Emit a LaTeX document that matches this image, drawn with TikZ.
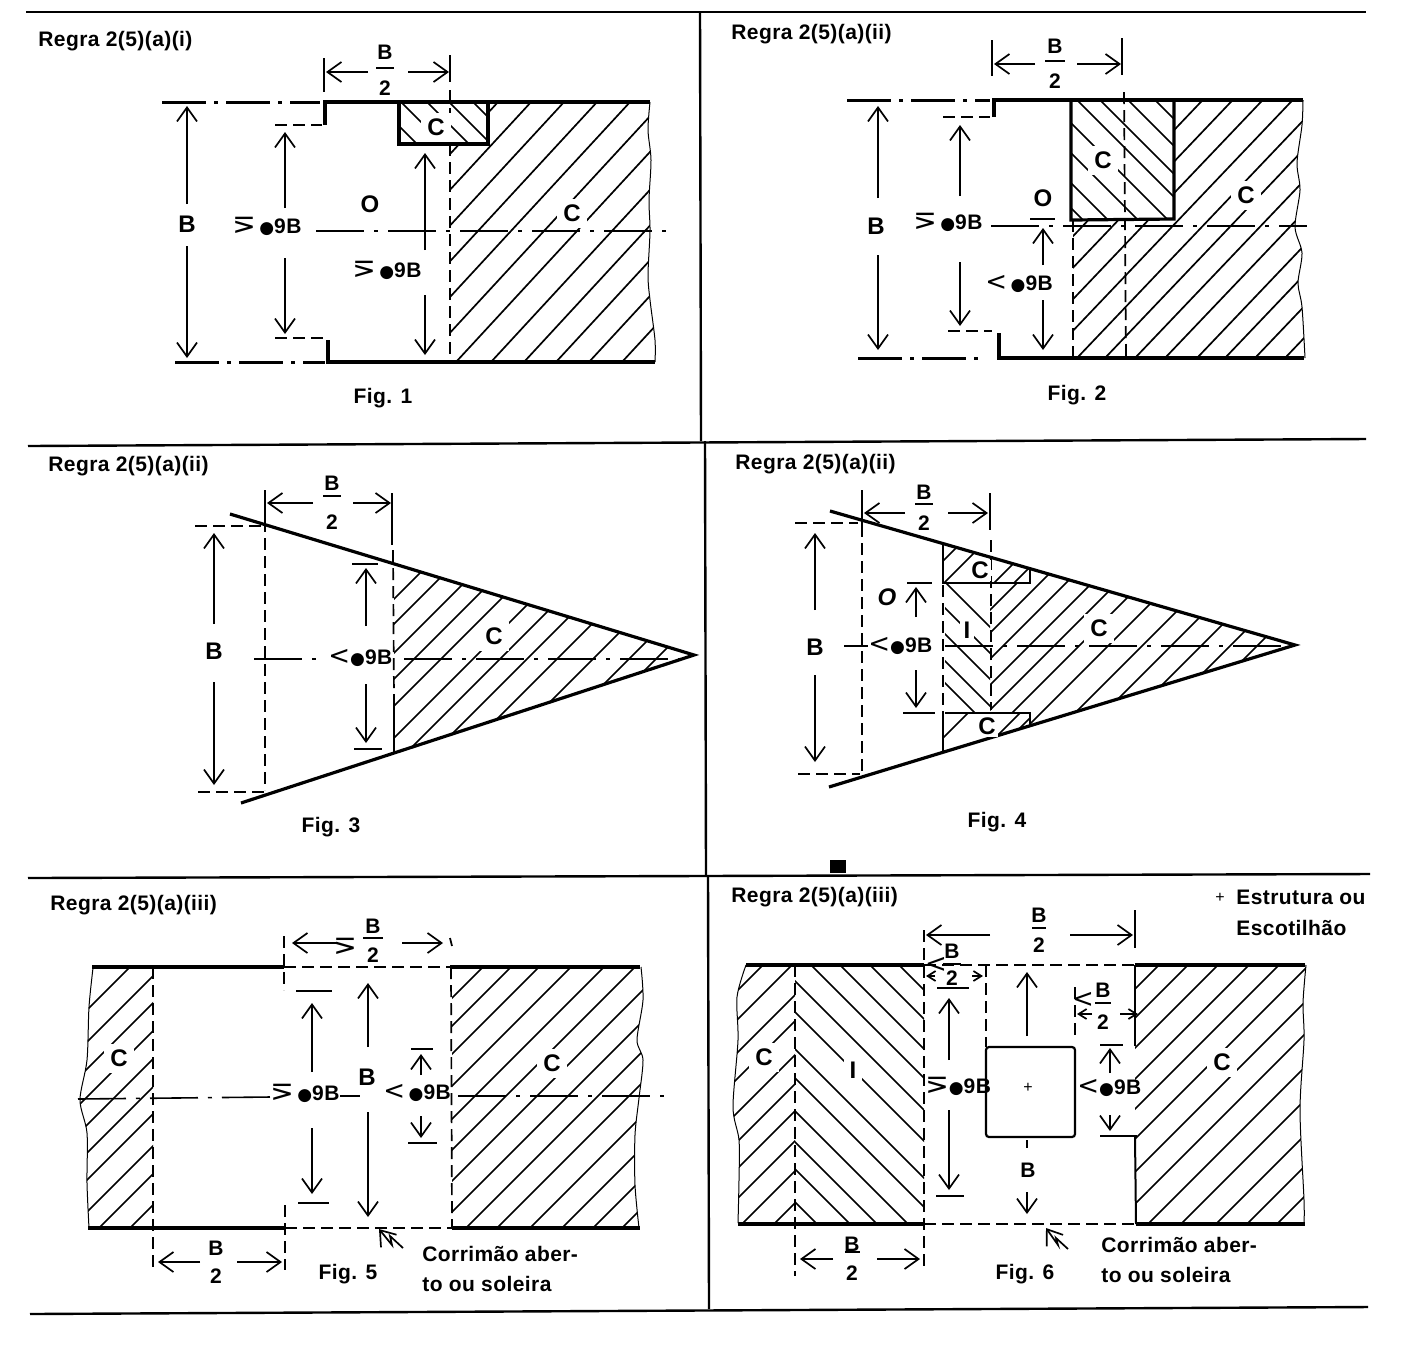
\documentclass[tikz,border=0pt]{standalone}
\usepackage{fontspec}
\setmainfont[LetterSpace=2]{Liberation Sans}
\newfontfamily\djf{DejaVu Sans}
\usetikzlibrary{arrows.meta}
\newcommand\gebar{{\djf\mdseries\fontsize{14}{14}\selectfont ⋝}}
\newcommand\ltm{{\djf\mdseries\fontsize{13}{13}\selectfont <}}
\newcommand\bdot{{\djf\mdseries\fontsize{8.5}{9}\selectfont ●}}
\newcommand\hatchU[4]{\begin{scope}\clip #1;\foreach \hv in {#4}{\draw[hatchl] ({\hv+2000/#2},{#3-2000}) -- ({\hv-2000/#2},{#3+2000});}\end{scope}}
\newcommand\hatchD[2]{\begin{scope}\clip #1;\foreach \hv in {#2}{\draw[hatchl] ({\hv},0) -- ({\hv+1500},1500);}\end{scope}}
% fraction: name, x, y of numerator, y of denominator, rule y, half rule width
\newcommand\frc[6]{\node[txt] (#1n) at (#2,#3) {B};\node[txt] (#1d) at (#2,#4) {2};\draw[dim] ({#2-#6},#5) -- ({#2+#6},#5);}
\tikzset{
  txt/.style={inner sep=0pt,font=\fontsize{10.5}{12}\selectfont\bfseries},
  big/.style={inner sep=3pt,fill=white,font=\fontsize{12}{13}\selectfont\bfseries},
  bar/.style={line width=1.6pt},
  thickdd/.style={line width=1.5pt,dash pattern=on 22pt off 4pt on 2pt off 4pt},
  dim/.style={line width=0.85pt,>={Straight Barb[length=7pt,width=10pt]}},
  dsh/.style={line width=0.85pt,dash pattern=on 6pt off 3pt},
  center/.style={line width=0.8pt,dash pattern=on 24pt off 5pt on 2pt off 5pt},
  hatchl/.style={line width=0.85pt},
  wavy/.style={line width=0.5pt},
  frameline/.style={line width=1.2pt}
}
\begin{document}
\begin{tikzpicture}[x=0.5pt,y=-0.5pt]
\useasboundingbox (0,0) rectangle (1418,1346);
% frame
\draw[frameline] (26,12) -- (1366,12);
\draw[frameline] (28,446) -- (1366,439);
\draw[frameline] (28,878) -- (1370,874);
\draw[frameline] (30,1314) -- (1368,1307);
\draw[frameline] (700,12) -- (701,441);
\draw[frameline] (705,441) -- (706,875);
\draw[frameline] (708,875) -- (709,1309);
\fill (830,860) rectangle (846,873);

% ---------- FIG 1
\node[txt,anchor=west] (r1) at (38,41) {Regra 2(5)(a)(i)};
\hatchU{(450,144) -- (488,144) -- (488,102) -- plot[smooth] coordinates {(650,102) (648,130) (651,160) (649,200) (650,231) (648,275) (650,300) (655,340) (655,362)} -- (450,362) -- cycle}{1.083}{362}{225,258,291,324,357,390,423,456,491,524,556,589,622}
\hatchD{(399,102) rectangle (488,144)}{273,299,325,347,371}
\draw[wavy] plot[smooth] coordinates {(650,102) (648,130) (651,160) (649,200) (650,231) (648,275) (650,300) (655,340) (655,362)};
\draw[bar] (399,102) -- (399,144) -- (488,144) -- (488,102);
\draw[thickdd] (162,102) -- (320,102);
\draw[bar] (325,125) -- (325,102) -- (650,102);
\draw[dsh] (275,125) -- (322,125);
\draw[thickdd] (175,362) -- (325,362);
\draw[bar] (328,340) -- (328,362) -- (655,362);
\draw[dsh] (275,338) -- (325,338);
\draw[dim] (324,58) -- (324,92);
\draw[dim] (450,55) -- (450,82);
\draw[dsh] (450,90) -- (450,362);
\draw[dim,->] (368,72) -- (326,72);
\draw[dim,->] (408,72) -- (449,72);
\frc{f1}{385}{52}{88}{68}{9}
\draw[dim,->] (187,204) -- (187,106);
\draw[dim,->] (187,246) -- (187,358);
\draw[dim,->] (285,208) -- (285,132);
\draw[dim,->] (285,258) -- (285,334);
\draw[dim,->] (425,250) -- (425,153);
\draw[dim,->] (425,295) -- (425,355);
\draw[center] (316,231) -- (667,231);
\node[big] (b1) at (187,224) {B};
\node[txt,anchor=west] (m1a) at (232,226) {\gebar\,\bdot 9B};
\node[txt,anchor=west] (m1b) at (352,270) {\gebar\,\bdot 9B};
\node[big] (o1) at (370,204) {O};
\node[big] (c1a) at (436,127) {C};
\node[big] (c1b) at (572,213) {C};
\node[txt] (fig1) at (383,398) {Fig. 1};

% ---------- FIG 2
\node[txt,anchor=west] (r2) at (731,34) {Regra 2(5)(a)(ii)};
\hatchU{(1174,100) -- plot[smooth] coordinates {(1303,100) (1302,125) (1297,163) (1300,190) (1295,227) (1302,253) (1298,283) (1302,307) (1305,358)} -- (1073,358) -- (1073,220) -- (1174,220) -- cycle}{1.05}{358}{897,927,957,987,1017,1047,1077,1105,1135,1165,1197,1225,1255,1285}
\hatchD{(1071,100) rectangle (1174,219)}{863,888,918,948,977,1000,1028,1055}
\draw[wavy] plot[smooth] coordinates {(1303,100) (1302,125) (1297,163) (1300,190) (1295,227) (1302,253) (1298,283) (1302,307) (1305,358)};
\draw[thickdd] (847,100) -- (990,100);
\draw[bar] (994,117) -- (994,100) -- (1303,100);
\draw[dsh] (943,117) -- (990,117);
\draw[thickdd] (858,358) -- (985,358);
\draw[bar] (999,333) -- (999,358) -- (1304,358);
\draw[dsh] (948,331) -- (992,331);
\draw[bar] (1071,100) -- (1071,220) -- (1174,219) -- (1174,100);
\draw[dsh] (1073,220) -- (1073,358);
\draw[dsh] (1124,92) -- (1126,358);
\draw[dim] (992,40) -- (992,76);
\draw[dim] (1122,38) -- (1122,75);
\draw[dim,->] (1035,64) -- (994,64);
\draw[dim,->] (1077,64) -- (1121,64);
\frc{f2}{1055}{46}{81}{61}{10}
\draw[dim,->] (878,198) -- (878,106);
\draw[dim,->] (878,255) -- (878,350);
\draw[dim,->] (960,196) -- (960,125);
\draw[dim,->] (960,262) -- (960,326);
\draw[dim,->] (1043,265) -- (1043,228);
\draw[dim,->] (1043,300) -- (1043,350);
\draw[dim] (1030,219) -- (1055,219);
\draw[center] (991,226) -- (1307,226);
\node[big] (b2) at (876,226) {B};
\node[txt,anchor=west] (m2a) at (913,222) {\gebar\,\bdot 9B};
\node[txt,anchor=west] (m2b) at (985,284) {\ltm\,\bdot 9B};
\node[big,inner sep=1pt] (o2) at (1043,198) {O};
\node[big] (c2a) at (1103,160) {C};
\node[big] (c2b) at (1246,195) {C};
\node[txt] (fig2) at (1077,395) {Fig. 2};

% ---------- FIG 3
\node[txt,anchor=west] (r3) at (48,466) {Regra 2(5)(a)(ii)};
\hatchU{(394,563) -- (694,655) -- (394,752) -- cycle}{1}{0}{993,1018,1047,1073,1100,1132,1159,1186,1216,1252,1288,1315}
\draw[bar] (230,514) -- (694,655) -- (241,803);
\draw[dim] (265,490) -- (265,520);
\draw[dsh] (265,520) -- (265,790);
\draw[dim] (392,493) -- (392,545);
\draw[dsh] (393,550) -- (394,700);
\draw[bar,line width=1pt] (394,700) -- (394,752);
\draw[dim,->] (313,503) -- (267,503);
\draw[dim,->] (353,503) -- (391,503);
\frc{f3}{332}{483}{522}{496}{9}
\draw[dsh] (195,526) -- (262,526);
\draw[dsh] (198,792) -- (265,792);
\draw[dim,->] (214,624) -- (214,533);
\draw[dim,->] (214,682) -- (214,785);
\draw[dim] (352,564) -- (378,564);
\draw[dim] (354,749) -- (382,749);
\draw[dim,->] (366,626) -- (366,568);
\draw[dim,->] (366,684) -- (366,743);
\draw[center] (254,659) -- (325,659);
\draw[center] (404,659) -- (690,659);
\node[big,fill=none,inner sep=0pt] (b3) at (214,651) {B};
\node[txt,anchor=west] (m3) at (328,658) {\ltm\bdot 9B};
\node[big] (c3) at (494,636) {C};
\node[txt] (fig3) at (331,827) {Fig. 3};

% ---------- FIG 4
\node[txt,anchor=west] (r4) at (735,464) {Regra 2(5)(a)(ii)};
\hatchU{(943,543) -- (1030,569) -- (1030,583) -- (943,583) -- cycle}{1}{0}{1504,1527,1577,1597}
\hatchU{(943,713) -- (1030,713) -- (1030,726) -- (943,752) -- cycle}{1}{0}{1681,1733,1748}
\hatchD{(945,584) rectangle (990,713)}{363,337,311,284,262}
\hatchU{(1030,569) -- (1295,645) -- (1030,726) -- (1030,713) -- (990,713) -- (990,584) -- (1030,584) -- cycle}{1}{0}{1600,1623,1649,1675,1700,1725,1754,1788,1817,1847,1876,1903}
\draw[bar] (830,511) -- (1295,645) -- (829,787);
\draw[dim] (862,490) -- (862,525);
\draw[dsh] (862,525) -- (862,775);
\draw[dim] (990,493) -- (990,530);
\draw[dsh] (991,540) -- (991,710);
\draw[dim,->] (905,513) -- (864,513);
\draw[dim,->] (948,513) -- (988,513);
\frc{f4}{924}{492}{523}{504}{9}
\draw[dsh] (795,523) -- (858,523);
\draw[dsh] (798,774) -- (860,774);
\draw[dim,->] (815,610) -- (815,533);
\draw[dim,->] (815,675) -- (815,762);
\draw[dim,->] (916,617) -- (916,587);
\draw[dim,->] (916,670) -- (916,708);
\draw[dim] (907,583) -- (932,583);
\draw[dim] (903,713) -- (935,713);
\draw[line width=1.2pt] (943,544) -- (943,583) -- (1030,583) -- (1030,570);
\draw[dsh] (943,585) -- (943,713);
\draw[line width=1.2pt] (943,713) -- (943,752);
\draw[dim,line width=1pt] (945,713) -- (1030,713) -- (1030,725);
\draw[dim] (844,646) -- (868,646);
\draw[center] (945,646) -- (1285,646);
\node[big,fill=none,inner sep=0pt] (b4) at (815,647) {B};
\node[txt,anchor=west] (m4) at (868,646) {\ltm\bdot 9B};
\node[big,fill=white,inner sep=1pt,font=\fontsize{12}{13}\selectfont\bfseries\itshape] (o4) at (887,597) {O};
\node[big,inner sep=1pt] (c4a) at (980,570) {C};
\node[big,inner sep=1pt] (c4b) at (987,726) {C};
\node[big,inner sep=2pt] (i4) at (967,630) {I};
\node[big] (c4c) at (1099,628) {C};
\node[txt] (fig4) at (997,822) {Fig. 4};

% ---------- FIG 5
\node[txt,anchor=west] (r5) at (50,905) {Regra 2(5)(a)(iii)};
\hatchU{(153,967) -- plot[smooth] coordinates {(93,968) (89,1007) (87,1060) (80,1100) (87,1133) (87,1183) (89,1228)} -- (153,1228) -- cycle}{1}{0}{1097,1129,1156,1184,1212,1240,1267,1299,1327,1358}
\hatchU{(452,967) -- plot[smooth] coordinates {(641,967) (643,1000) (637,1040) (643,1060) (639,1098) (635,1135) (635,1185) (639,1228)} -- (452,1228) -- cycle}{1}{0}{1450,1478,1506,1538,1571,1602,1633,1664,1694,1725,1758,1790,1821,1850}
\draw[wavy] plot[smooth] coordinates {(93,968) (89,1007) (87,1060) (80,1100) (87,1133) (87,1183) (89,1228)};
\draw[wavy] plot[smooth] coordinates {(641,967) (643,1000) (637,1040) (643,1060) (639,1098) (635,1135) (635,1185) (639,1228)};
\draw[bar] (92,967) -- (284,967);
\draw[bar] (450,967) -- (640,967);
\draw[bar] (88,1228) -- (285,1228);
\draw[bar] (452,1228) -- (640,1228);
\draw[dsh] (284,967) -- (450,967);
\draw[dsh] (285,1228) -- (452,1228);
\draw[dsh] (284,936) -- (284,990);
\draw[dsh] (285,1205) -- (285,1270);
\draw[dsh] (153,967) -- (153,1272);
\draw[dsh] (451,967) -- (452,1228);
\draw[dim] (450,938) -- (452,946);
\draw[dim,->] (338,943) -- (292,943);
\draw[dim,->] (402,943) -- (443,943);
\frc{f5}{373}{926}{955}{938}{10}
\node[txt] (g5) at (345,946) {\gebar};
\draw[dim] (296,991) -- (332,991);
\draw[dim] (298,1203) -- (329,1203);
\draw[dim,->] (312,1072) -- (312,1003);
\draw[dim,->] (312,1128) -- (312,1194);
\draw[dim,->] (368,1047) -- (368,983);
\draw[dim,->] (368,1112) -- (368,1217);
\draw[dim,->] (421,1075) -- (421,1054);
\draw[dim] (411,1049) -- (433,1049);
\draw[dim,->] (421,1116) -- (421,1138);
\draw[dim] (408,1143) -- (437,1143);
\draw[center] (78,1099) -- (270,1097);
\draw[dim] (340,1096) -- (360,1096);
\draw[center] (458,1096) -- (670,1096);
\node[big,fill=none,inner sep=0pt] (b5) at (367,1077) {B};
\node[txt,anchor=west] (m5a) at (270,1093) {\gebar\,\bdot 9B};
\node[txt,anchor=west] (m5b) at (383,1093) {\ltm\,\bdot 9B};
\node[big] (c5a) at (119,1058) {C};
\node[big] (c5b) at (552,1063) {C};
\draw[dim,->] (200,1262) -- (158,1262);
\draw[dim,->] (237,1262) -- (282,1262);
\node[txt] (f5n) at (216,1248) {B};
\node[txt] (f5d) at (216,1276) {2};
\draw[dim,->] (403,1248) -- (390,1236) -- (392,1245) -- (379,1229);
\node[txt,anchor=west] (t5a) at (422,1254) {Corrimão aber-};
\node[txt,anchor=west] (t5b) at (422,1284) {to ou soleira};
\node[txt] (fig5) at (348,1274) {Fig. 5};

% ---------- FIG 6
\node[txt,anchor=west] (r6) at (731,897) {Regra 2(5)(a)(iii)};
\node[inner sep=0pt,font=\fontsize{8}{9}\selectfont] (p6) at (1220,898) {+};
\node[txt,anchor=west] (e6a) at (1236,897) {Estrutura ou};
\node[txt,anchor=west] (e6b) at (1236,928) {Escotilhão};
\hatchU{(795,965) -- plot[smooth] coordinates {(746,965) (737,997) (738,1040) (733,1107) (739,1140) (739,1180) (738,1223)} -- (795,1224) -- cycle}{1}{0}{1728,1757,1790,1816,1850,1879,1906,1936,1966,1998}
\hatchD{(795,965) rectangle (924,1224)}{-66,-95,-125,-154,-186,-217,-254,-283,-316,-347,-374,-407}
\hatchU{(1135,965) -- plot[smooth] coordinates {(1306,965) (1303,1003) (1304,1040) (1300,1110) (1304,1200) (1304,1224)} -- (1135,1224) -- cycle}{1}{0}{2124,2153,2183,2214,2244,2274,2307,2339,2372,2405,2440,2471,2501}
\draw[wavy] plot[smooth] coordinates {(746,965) (737,997) (738,1040) (733,1107) (739,1140) (739,1180) (738,1223)};
\draw[wavy] plot[smooth] coordinates {(1306,965) (1303,1003) (1304,1040) (1300,1110) (1304,1200) (1304,1224)};
\draw[bar] (746,965) -- (924,965);
\draw[bar] (1135,965) -- (1305,965);
\draw[bar] (738,1224) -- (924,1224);
\draw[bar] (1136,1224) -- (1305,1224);
\draw[dsh] (924,965) -- (1135,965);
\draw[dsh] (924,1224) -- (1136,1224);
\draw[dsh] (795,965) -- (795,1276);
\draw[dsh] (924,930) -- (924,1268);
\draw[dsh] (986,965) -- (986,1047);
\draw[dsh] (1075,987) -- (1075,1035);
\draw[dim] (1135,910) -- (1135,948);
\draw[dim,line width=1pt] (1135,965) -- (1135,1046);
\draw[dim,line width=1pt] (1135,1137) -- (1136,1224);
\draw[dim,line width=1.1pt,rounded corners=1.5pt] (986,1047) rectangle (1075,1137);
\node[inner sep=0pt,font=\fontsize{8}{9}\selectfont] (p6b) at (1028,1088) {+};
\draw[dim,->] (990,935) -- (926,935);
\draw[dim,->] (1070,935) -- (1133,935);
\frc{f6a}{1039}{915}{945}{928}{7}
\frc{f6b}{952}{951}{978}{964}{9}
\node[txt] (g6) at (936,965) {\ltm};
\draw[dim] (937,988) -- (969,988);
\draw[dim,->,>={Straight Barb[length=4pt,width=5pt]}] (935,976) -- (926,976);
\draw[dim,->,>={Straight Barb[length=4pt,width=5pt]}] (972,976) -- (983,976);
\draw[dim,->] (949,1060) -- (949,998);
\draw[dim,->] (949,1110) -- (949,1190);
\draw[dim] (936,1196) -- (964,1196);
\draw[dim,->] (1027,1036) -- (1027,972);
\draw[dim] (1027,1140) -- (1027,1148);
\node[txt] (f6bb) at (1028,1170) {B};
\draw[dim,->] (1027,1192) -- (1027,1214);
\frc{f6c}{1103}{990}{1022}{1003}{8}
\node[txt] (g6b) at (1083,1000) {\ltm};
\draw[dim,->,>={Straight Barb[length=4pt,width=5pt]}] (1092,1014) -- (1077,1014);
\draw[dim,->,>={Straight Barb[length=4pt,width=5pt]}] (1120,1014) -- (1138,1014);
\draw[dim,->] (1110,1073) -- (1110,1048);
\draw[dim] (1100,1045) -- (1123,1045);
\draw[dim,->] (1110,1115) -- (1110,1131);
\draw[dim] (1100,1136) -- (1137,1136);
\node[txt,anchor=west] (m6a) at (925,1086) {\gebar\bdot 9B};
\node[txt,anchor=west] (m6b) at (1077,1088) {\ltm\bdot 9B};
\node[big] (c6a) at (764,1057) {C};
\node[big] (i6) at (853,1070) {I};
\node[big] (c6b) at (1222,1062) {C};
\draw[dim,->] (833,1259) -- (800,1259);
\draw[dim,->] (877,1259) -- (920,1259);
\node[txt] (f6dn) at (852,1244) {B};
\node[txt] (f6dd) at (852,1273) {2};
\draw[dim] (845,1252) -- (860,1252);
\draw[dim,->] (1068,1249) -- (1056,1238) -- (1058,1245) -- (1046,1228);
\node[txt,anchor=west] (t6a) at (1101,1245) {Corrimão aber-};
\node[txt,anchor=west] (t6b) at (1101,1275) {to ou soleira};
\node[txt] (fig6) at (1025,1274) {Fig. 6};
\end{tikzpicture}
\end{document}
